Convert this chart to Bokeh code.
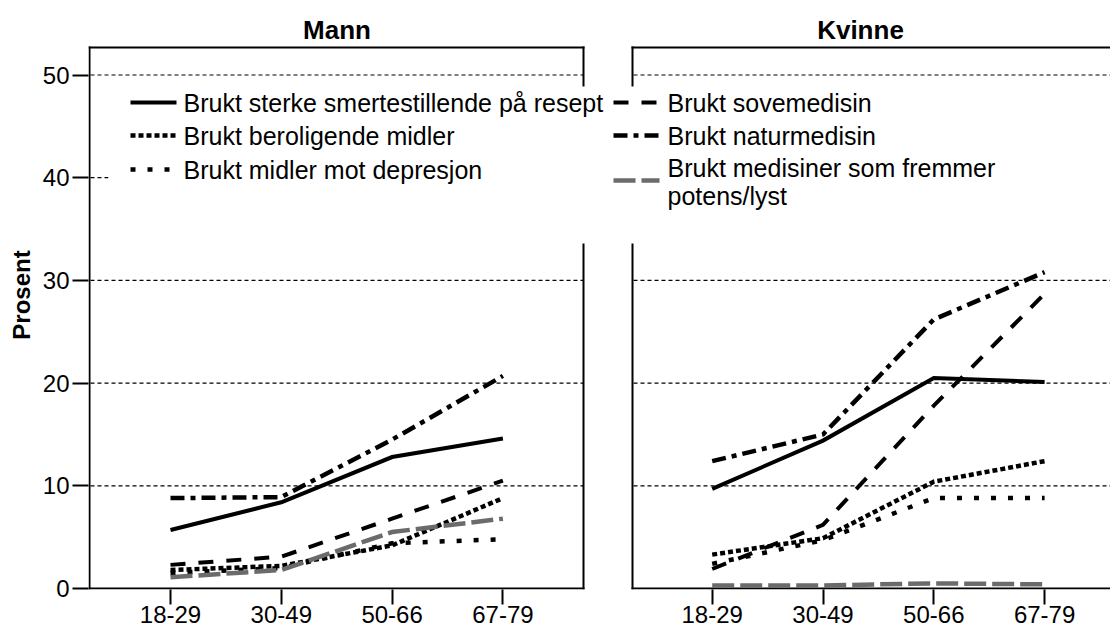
from bokeh.plotting import figure
from bokeh.models import Range1d, FixedTicker, CustomJSTickFormatter
from bokeh.core.properties import value
from bokeh.embed import file_html
from bokeh.resources import INLINE

# ---------------- data ----------------
age_groups = ["18-29", "30-49", "50-66", "67-79"]
panels = ["Mann", "Kvinne"]
y_ticks = [0, 10, 20, 30, 40, 50]
y_label = "Prosent"

series = [
    "Brukt sterke smertestillende på resept",
    "Brukt sovemedisin",
    "Brukt beroligende midler",
    "Brukt naturmedisin",
    "Brukt midler mot depresjon",
    "Brukt medisiner som fremmer\npotens/lyst",
]

mann_smerte = [5.7, 8.4, 12.8, 14.6]
mann_sove = [2.3, 3.1, 6.8, 10.5]
mann_berol = [1.8, 2.2, 4.2, 8.8]
mann_natur = [8.8, 8.9, 14.5, 20.7]
mann_depr = [1.5, 2.0, 4.4, 4.8]
mann_potens = [1.1, 1.8, 5.5, 6.8]

kvinne_smerte = [9.7, 14.4, 20.5, 20.1]
kvinne_sove = [1.9, 6.2, 17.8, 28.7]
kvinne_berol = [3.3, 4.9, 10.4, 12.4]
kvinne_natur = [12.4, 15.0, 26.2, 30.8]
kvinne_depr = [2.4, 4.7, 8.8, 8.8]
kvinne_potens = [0.3, 0.3, 0.5, 0.4]

mann_values = [mann_smerte, mann_sove, mann_berol, mann_natur, mann_depr, mann_potens]
kvinne_values = [kvinne_smerte, kvinne_sove, kvinne_berol, kvinne_natur, kvinne_depr, kvinne_potens]

# ---------------- styles ----------------
BLACK = "#000000"
GRAY = "#6b6b6b"
styles = [
    dict(color=BLACK, dash="solid", width=4),
    dict(color=BLACK, dash="15 13", width=4),
    dict(color=BLACK, dash="5 3", width=4.5),
    dict(color=BLACK, dash="14 6 5 6", width=4.5),
    dict(color=BLACK, dash="5 12", width=4.5),
    dict(color=GRAY, dash="22 6", width=4.5),
]
FONT = "Liberation Sans"

# ---------------- geometry (pixels -> data) ----------------
W, H = 1110, 633
FL, FR, FT, FB = 88, 1110, 0, 589
PXX = 110.8          # px per category step
X0PX = 170.0         # px of first category in left panel
PXY = 10.27          # px per percent
Y0PX = 588.0         # px of y = 0
OFF = (711.7 - X0PX) / PXX   # right panel category offset


def dx(px):
    return (px - X0PX) / PXX


def dy(py):
    return (Y0PX - py) / PXY


p = figure(width=W, height=H,
           x_range=Range1d(dx(FL), dx(FR)),
           y_range=Range1d(dy(FB), dy(FT)),
           output_backend="svg", toolbar_location=None,
           min_border_left=FL, min_border_right=W - FR,
           min_border_top=FT, min_border_bottom=H - FB)
p.outline_line_color = None
p.grid.visible = False
p.background_fill_color = "white"
p.border_fill_color = "white"

# axes
yax = p.yaxis[0]
yax.ticker = FixedTicker(ticks=y_ticks)
yax.axis_line_color = None
yax.major_tick_in = 0
yax.major_tick_out = 16
yax.major_tick_line_width = 2
yax.major_tick_line_color = BLACK
yax.minor_tick_line_color = None
yax.major_label_standoff = 3
yax.major_label_text_font = FONT
yax.major_label_text_font_size = "24px"
yax.major_label_text_color = BLACK
yax.axis_label = y_label
yax.axis_label_text_font = FONT
yax.axis_label_text_font_size = "24px"
yax.axis_label_text_font_style = "bold"
yax.axis_label_text_color = BLACK
yax.axis_label_standoff = 5

left_x = [float(i) for i in range(len(age_groups))]
right_x = [i + OFF for i in range(len(age_groups))]

xax = p.xaxis[0]
xax.ticker = FixedTicker(ticks=left_x + right_x)
xax.formatter = CustomJSTickFormatter(args=dict(labels=age_groups, off=OFF), code="""
const k = tick > 3.5 ? tick - off : tick;
return labels[Math.round(k)];
""")
xax.axis_line_color = None
xax.major_tick_in = 0
xax.major_tick_out = 15
xax.major_tick_line_width = 2
xax.major_tick_line_color = BLACK
xax.minor_tick_line_color = None
xax.major_label_standoff = 1
xax.major_label_text_font = FONT
xax.major_label_text_font_size = "24px"
xax.major_label_text_color = BLACK

# panel extents in px
panel_px = [(89, 583), (632, 1112)]
TOP_PX, BOT_PX = 47, 588

# dashed gridlines
gx0, gx1, gy = [], [], []
for (a, b) in panel_px:
    for t in y_ticks[1:]:
        gx0.append(dx(a + 1)); gx1.append(dx(b)); gy.append(t)
p.segment(x0=gx0, y0=gy, x1=gx1, y1=gy, line_color=BLACK, line_width=1.2, line_dash="4 3")

# panel borders
bx0 = [dx(89), dx(88), dx(88), dx(583), dx(632), dx(631), dx(631)]
by0 = [dy(TOP_PX - 1), dy(TOP_PX), dy(BOT_PX), dy(TOP_PX - 1), dy(TOP_PX - 1), dy(TOP_PX), dy(BOT_PX)]
bx1 = [dx(89), dx(584), dx(584), dx(583), dx(632), dx(1112), dx(1112)]
by1 = [dy(BOT_PX + 1), dy(TOP_PX), dy(BOT_PX), dy(BOT_PX + 1), dy(BOT_PX + 1), dy(TOP_PX), dy(BOT_PX)]
p.segment(x0=bx0, y0=by0, x1=bx1, y1=by1, line_color=BLACK, line_width=2)

# white legend box covering grid/borders
p.quad(left=[dx(108)], right=[dx(1115)], top=[dy(86)], bottom=[dy(243)],
       fill_color="white", line_color=None)

# data lines
for xs, vals in ((left_x, mann_values), (right_x, kvinne_values)):
    for st, v in zip(styles, vals):
        p.line(x=xs, y=v, line_color=st["color"], line_width=st["width"],
               line_dash=st["dash"], line_cap="butt", line_join="miter")

# panel titles
p.text(x=[dx(336.5), dx(860)], y=[dy(29), dy(29)], text=panels,
       text_font=value(FONT), text_font_size="26px", text_font_style="bold",
       text_align="center", text_baseline="middle", text_color=BLACK)

# legend (two columns)
leg_cols = [(130, 176, 183), (613, 659, 667)]
leg_rows = [102, 135, 169]
order = [(0, 0, 0), (2, 0, 1), (4, 0, 2), (1, 1, 0), (3, 1, 1), (5, 1, 2)]
for idx, c, r in order:
    g0, g1, tx = leg_cols[c]
    ry = leg_rows[r]
    st = styles[idx]
    gy_ = ry
    ty = ry
    if "\n" in series[idx]:
        gy_ = ry + 11
        ty = ry + 12.5
    p.line(x=[dx(g0), dx(g1)], y=[dy(gy_), dy(gy_)], line_color=st["color"],
           line_width=st["width"], line_dash=st["dash"], line_cap="butt")
    p.text(x=[dx(tx)], y=[dy(ty)], text=[series[idx]], text_font=value(FONT),
           text_font_size="25px", text_align="left", text_baseline="middle",
           text_color=BLACK, text_line_height=1.0)

open("out.html", "w").write(file_html(p, INLINE))
